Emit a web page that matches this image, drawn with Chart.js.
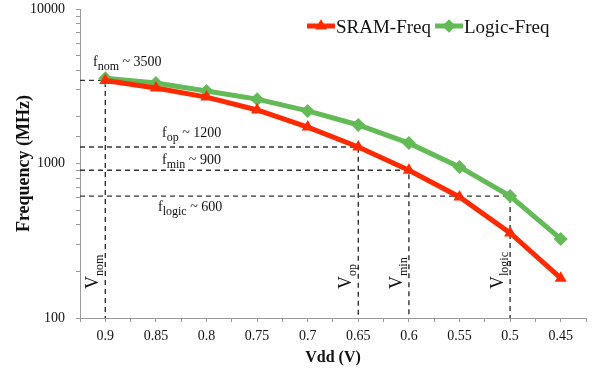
<!DOCTYPE html>
<html>
<head>
<meta charset="utf-8">
<script src="https://cdn.jsdelivr.net/npm/chart.js@4.4.0/dist/chart.umd.min.js"></script>
<style>
  html, body { margin: 0; padding: 0; background: #fff; }
  canvas { display: block; }
</style>
</head>
<body>
<canvas id="c" width="595" height="375"></canvas>
<script>
// ---- data ----
const vdd = [0.9, 0.85, 0.8, 0.75, 0.7, 0.65, 0.6, 0.55, 0.5, 0.45];
const xTickLabels = ['0.9', '0.85', '0.8', '0.75', '0.7', '0.65', '0.6', '0.55', '0.5', '0.45'];
const sramFreq = [3450, 3080, 2690, 2220, 1720, 1280, 905, 607, 355, 181];
const logicFreq = [3560, 3320, 2950, 2610, 2190, 1775, 1355, 950, 615, 325];
const yTickLabels = ['100', '1000', '10000'];
const seriesNames = ['SRAM-Freq', 'Logic-Freq'];

// reference (dashed) markers
const refNames = ['nom', 'op', 'min', 'logic'];
const refVdd = [0.9, 0.65, 0.6, 0.5];
const refFreq = [3450, 1280, 905, 615];
const refTexts = ['~ 3500', '~ 1200', '~ 900', '~ 600'];

const RED = '#FF2A00';
const GREEN = '#63BA56';
const FONT = "'Liberation Serif', 'Times New Roman', serif";

const xMinB = 0.425, xMaxB = 0.925, yMinB = 100;

const mainSets = [
  {
    label: seriesNames[0],
    data: vdd.map((v, i) => ({ x: v, y: sramFreq[i] })),
    borderColor: RED, backgroundColor: RED, borderWidth: 5,
    pointStyle: 'triangle', pointRadius: 7, pointBorderWidth: 0,
    pointBackgroundColor: RED
  },
  {
    label: seriesNames[1],
    data: vdd.map((v, i) => ({ x: v, y: logicFreq[i] })),
    borderColor: GREEN, backgroundColor: GREEN, borderWidth: 5,
    pointStyle: 'rectRot', pointRadius: 7, pointBorderWidth: 0,
    pointBackgroundColor: GREEN
  }
];
const refSets = refVdd.map((v, i) => ({
  label: 'ref-' + refNames[i],
  data: [{ x: xMaxB, y: refFreq[i] }, { x: v, y: refFreq[i] }, { x: v, y: yMinB }],
  borderColor: '#333', borderWidth: 1.4, borderDash: [5, 4],
  pointRadius: 0, fill: false, tension: 0
}));

// label placement (pixel offsets)
const refLabelPos = [
  { dx: 13, dyFromLine: -14 },
  { dx: 82, dyFromLine: -10 },
  { dx: 82, dyFromLine: -6 },
  { dx: 78, dyFromLine: 15 }
];

const overlay = {
  id: 'overlay',
  afterDraw(chart) {
    const ctx = chart.ctx;
    const xs = chart.scales.x, ys = chart.scales.y;
    const area = chart.chartArea;
    ctx.save();
    ctx.fillStyle = '#111';
    ctx.textBaseline = 'alphabetic';
    ctx.textAlign = 'left';
    // f labels
    refNames.forEach((n, i) => {
      const yLine = ys.getPixelForValue(refFreq[i]);
      let x = area.left + refLabelPos[i].dx;
      const y = yLine + refLabelPos[i].dyFromLine;
      ctx.font = '14px ' + FONT;
      ctx.fillText('f', x, y);
      x += ctx.measureText('f').width;
      ctx.font = '12px ' + FONT;
      ctx.fillText(n, x, y + 4);
      x += ctx.measureText(n).width;
      ctx.font = '14px ' + FONT;
      ctx.fillText(' ' + refTexts[i], x, y);
    });
    // V labels (rotated)
    refNames.forEach((n, i) => {
      const xLine = xs.getPixelForValue(refVdd[i]);
      ctx.save();
      ctx.translate(xLine - 7, area.bottom - 29);
      ctx.rotate(-Math.PI / 2);
      ctx.font = '18px ' + FONT;
      ctx.fillText('V', 0, 0);
      const w = ctx.measureText('V').width;
      ctx.font = '12px ' + FONT;
      ctx.fillText(n, w, 5);
      ctx.restore();
    });
    // legend
    const legendItems = [
      { x: 307, color: RED, style: 'triangle' },
      { x: 435, color: GREEN, style: 'rectRot' }
    ];
    const ly = 26;
    legendItems.forEach((it, i) => {
      ctx.strokeStyle = it.color;
      ctx.lineWidth = 5;
      ctx.beginPath();
      ctx.moveTo(it.x, ly);
      ctx.lineTo(it.x + 28, ly);
      ctx.stroke();
      ctx.fillStyle = it.color;
      Chart.helpers.drawPoint(ctx, { pointStyle: it.style, radius: 6.5, borderWidth: 0, rotation: 0 }, it.x + 14, ly);
      ctx.fill();
      ctx.fillStyle = '#111';
      ctx.font = '19px ' + FONT;
      ctx.fillText(seriesNames[i], it.x + 29, ly + 7);
    });
    ctx.restore();
  }
};

new Chart(document.getElementById('c'), {
  type: 'line',
  data: { datasets: mainSets.concat(refSets) },
  options: {
    responsive: false,
    animation: false,
    devicePixelRatio: 1,
    layout: { padding: { top: 9, right: 9, left: 0, bottom: 0 } },
    plugins: { legend: { display: false }, tooltip: { enabled: false } },
    elements: { line: { tension: 0 } },
    scales: {
      x: {
        type: 'linear', reverse: true, min: xMinB, max: xMaxB,
        afterFit(s) { s.height = 57; s.paddingLeft = 0; s.paddingRight = 0; },
        grid: { drawOnChartArea: false, drawTicks: true, tickLength: 4, color: '#999' },
        border: { display: true, color: '#999', width: 1 },
        ticks: {
          stepSize: 0.025, autoSkip: false, maxRotation: 0, padding: 6,
          color: '#111', font: { family: FONT, size: 14 },
          callback(value) {
            const i = vdd.findIndex(v => Math.abs(v - value) < 1e-6);
            return i >= 0 ? xTickLabels[i] : '';
          }
        },
        title: { display: true, text: 'Vdd (V)', color: '#111',
          font: { family: FONT, size: 16, weight: 'bold' }, padding: { top: 0, bottom: 8 } }
      },
      y: {
        type: 'logarithmic', min: 100, max: 10000,
        afterFit(s) { s.width = 80; s.paddingTop = 0; s.paddingBottom = 0; },
        grid: { drawOnChartArea: false, drawTicks: true, tickLength: 4, color: '#999' },
        border: { display: true, color: '#999', width: 1 },
        ticks: {
          autoSkip: false, padding: 11, color: '#111', font: { family: FONT, size: 14 },
          callback(value) {
            const s = String(Math.round(value));
            return yTickLabels.includes(s) ? s : '';
          }
        },
        title: { display: true, text: 'Frequency (MHz)', color: '#111',
          font: { family: FONT, size: 18, weight: 'bold' }, padding: { top: 14, bottom: 0 } }
      }
    }
  },
  plugins: [overlay]
});
</script>
</body>
</html>
